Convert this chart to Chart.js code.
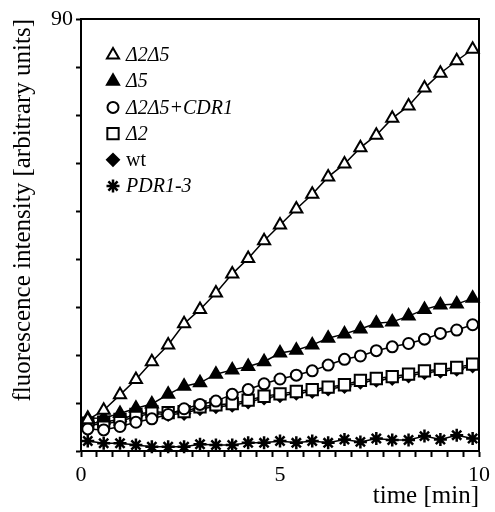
<!DOCTYPE html>
<html>
<head>
<meta charset="utf-8">
<title>fluorescence uptake</title>
<script src="https://cdn.jsdelivr.net/npm/chart.js@4/dist/chart.umd.min.js"></script>
<style>
  html, body { margin: 0; padding: 0; background: #fff; }
</style>
</head>
<body>
<canvas id="uptakeChart" width="495" height="512"></canvas>
<script>
// time points [min]
const times = [0.17, 0.57, 0.98, 1.38, 1.78, 2.19, 2.59, 2.99, 3.39, 3.80, 4.20, 4.60, 5.00,
               5.41, 5.81, 6.21, 6.62, 7.02, 7.42, 7.82, 8.23, 8.63, 9.03, 9.44, 9.84];

// fluorescence readings, one list per strain
const d2d5 = [6.5, 8.5, 11.7, 14.9, 18.6, 22.1, 26.5, 29.5, 32.9, 36.9, 40.1, 43.8, 47.1,
              50.4, 53.5, 57.1, 59.8, 63.2, 65.8, 69.3, 71.9, 75.6, 78.7, 81.3, 83.7];
const d5 = [6.8, 6.9, 7.8, 8.9, 9.8, 11.8, 13.5, 14.2, 16.0, 16.9, 17.6, 18.6, 20.4,
            21.0, 22.1, 23.5, 24.4, 25.4, 26.6, 26.9, 28.1, 29.5, 30.4, 30.6, 31.8];
const d2d5cdr1 = [4.6, 4.4, 5.1, 6.0, 6.7, 7.6, 8.8, 9.7, 10.4, 11.8, 12.8, 14.0, 15.0,
                  15.8, 16.7, 17.9, 19.1, 19.8, 20.9, 21.7, 22.4, 23.3, 24.5, 25.2, 26.3];
const d2 = [5.8, 6.0, 6.6, 7.6, 8.2, 8.0, 8.2, 9.2, 9.6, 9.9, 10.6, 11.4, 11.9,
            12.4, 12.8, 13.3, 13.8, 14.7, 15.1, 15.5, 16.0, 16.7, 17.0, 17.4, 18.1];
const wt = [5.4, 5.6, 6.2, 7.2, 7.8, 7.6, 7.8, 8.8, 9.2, 9.5, 10.2, 11.0, 11.5,
            12.0, 12.4, 12.9, 13.4, 14.3, 14.7, 15.1, 15.6, 16.3, 16.6, 17.0, 17.7];
const pdr13 = [2.1, 1.6, 1.6, 1.25, 0.9, 0.9, 0.9, 1.4, 1.25, 1.25, 1.7, 1.7, 2.1,
               1.7, 2.1, 1.7, 2.4, 1.9, 2.6, 2.3, 2.3, 3.1, 2.4, 3.3, 2.6];

const seriesLabels = ["Δ2Δ5", "Δ5", "Δ2Δ5+CDR1", "Δ2", "wt", "PDR1-3"];
const xLabelTicks = [0, 5, 10];
const yLabelTicks = [90];

const SERIF = '"Liberation Serif", "Times New Roman", serif';
Chart.defaults.font.family = SERIF;
Chart.defaults.color = "#000";

function toPoints(values) {
    return values.map((v, i) => ({ x: times[i], y: v }));
}

function series(label, values, style, radius, fill, markerLine) {
    return {
        label: label,
        data: toPoints(values),
        borderColor: "#000",
        borderWidth: 1.5,
        pointStyle: style,
        pointRadius: radius,
        pointBorderWidth: markerLine || 2,
        pointBorderColor: "#000",
        pointBackgroundColor: fill,
        tension: 0,
        clip: false
    };
}

// legend drawn inside the plot, top left
const insideLegend = {
    id: "insideLegend",
    afterDraw(chart) {
        const ctx = chart.ctx;
        const area = chart.chartArea;
        ctx.save();
        chart.data.datasets.forEach((ds, i) => {
            const x = area.left + 32;
            const y = area.top + 36 + i * 26.2;
            ctx.fillStyle = ds.pointBackgroundColor;
            ctx.strokeStyle = "#000";
            ctx.lineWidth = ds.pointBorderWidth;
            Chart.helpers.drawPoint(ctx, {
                pointStyle: ds.pointStyle,
                radius: ds.pointRadius,
                borderWidth: ds.pointBorderWidth,
                rotation: 0
            }, x, y);
            ctx.fillStyle = "#000";
            ctx.font = (ds.label === "wt" ? "" : "italic ") + "20px " + SERIF;
            ctx.textBaseline = "middle";
            ctx.textAlign = "left";
            ctx.fillText(ds.label, x + 13, y + 1);
        });
        ctx.restore();
    }
};

// top and right edges of the box
const frame = {
    id: "frame",
    afterDraw(chart) {
        const ctx = chart.ctx;
        const a = chart.chartArea;
        ctx.save();
        ctx.strokeStyle = "#000";
        ctx.lineWidth = 2;
        ctx.beginPath();
        ctx.moveTo(a.left, a.top);
        ctx.lineTo(a.right, a.top);
        ctx.lineTo(a.right, a.bottom);
        ctx.stroke();
        ctx.restore();
    }
};

const ctx = document.getElementById("uptakeChart").getContext("2d");

new Chart(ctx, {
    type: "line",
    data: {
        datasets: [
            series(seriesLabels[0], d2d5, "triangle", 7, "#fff"),
            series(seriesLabels[1], d5, "triangle", 7, "#000"),
            series(seriesLabels[2], d2d5cdr1, "circle", 5.5, "#fff"),
            series(seriesLabels[3], d2, "rect", 8, "#fff"),
            series(seriesLabels[4], wt, "rectRot", 6, "#000"),
            series(seriesLabels[5], pdr13, "star", 6.5, "#000", 2.5)
        ]
    },
    options: {
        responsive: false,
        animation: false,
        devicePixelRatio: 1,
        events: [],
        layout: { padding: { top: 19, right: 12, left: 0, bottom: 0 } },
        plugins: {
            legend: { display: false },
            tooltip: { enabled: false }
        },
        scales: {
            x: {
                type: "linear",
                min: 0,
                max: 10,
                afterBuildTicks(scale) {
                    const ticks = [];
                    for (let k = 0; k <= 25; k++) {
                        ticks.push({ value: Math.round(k * 0.4 * 100) / 100 });
                    }
                    ticks.push({ value: 5 });
                    ticks.sort((a, b) => a.value - b.value);
                    scale.ticks = ticks;
                },
                afterFit(scale) { scale.height = 61; },
                grid: {
                    drawOnChartArea: false,
                    drawTicks: true,
                    tickLength: 6,
                    tickWidth: 2,
                    tickColor: c => (c.tick && c.tick.value === 5) ? "rgba(0,0,0,0)" : "#000"
                },
                border: { display: true, color: "#000", width: 2 },
                ticks: {
                    autoSkip: false,
                    maxRotation: 0,
                    padding: 5,
                    font: { size: 22 },
                    callback: v => xLabelTicks.includes(v) ? String(v) : ""
                },
                title: {
                    display: true,
                    text: "time [min]",
                    align: "end",
                    font: { size: 25 },
                    padding: { top: 0, bottom: 1 }
                }
            },
            y: {
                min: 0,
                max: 90,
                afterFit(scale) { scale.width = 81; },
                grid: {
                    drawOnChartArea: false,
                    drawTicks: true,
                    tickLength: 5,
                    tickWidth: 2,
                    tickColor: "#000"
                },
                border: { display: true, color: "#000", width: 2 },
                ticks: {
                    stepSize: 10,
                    padding: 3,
                    font: { size: 22 },
                    callback: v => yLabelTicks.includes(v) ? String(v) : ""
                },
                title: {
                    display: true,
                    text: "fluorescence intensity [arbitrary units]",
                    align: "end",
                    font: { size: 25 },
                    padding: { top: 8 }
                }
            }
        }
    },
    plugins: [insideLegend, frame]
});
</script>
</body>
</html>
